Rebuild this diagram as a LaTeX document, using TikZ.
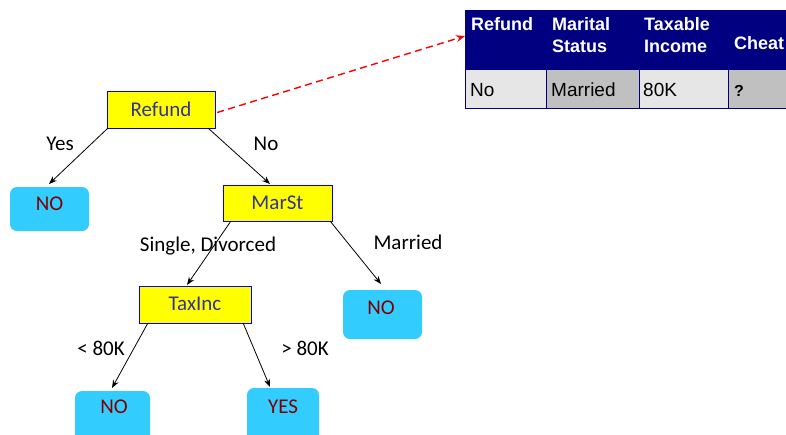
\documentclass[tikz,border=0pt]{standalone}
\usepackage{fontspec}
\setmainfont{Carlito}
\newfontfamily\arialfont{Liberation Sans}
\usetikzlibrary{arrows.meta}
\definecolor{boxblue}{HTML}{0000FF}
\definecolor{boxyellow}{HTML}{FFFF00}
\definecolor{leafcyan}{HTML}{33CCFF}
\definecolor{leaftext}{HTML}{800000}
\definecolor{dectext}{HTML}{333399}
\definecolor{navy}{HTML}{000080}
\definecolor{lightcell}{HTML}{E6E6E6}
\definecolor{darkcell}{HTML}{C0C0C0}
\tikzset{
  decbox/.style={draw=boxblue, line width=1pt, fill=boxyellow},
  leafbox/.style={fill=leafcyan, rounded corners=7pt},
  dectxt/.style={text=dectext, font=\fontsize{21}{24}\selectfont, inner sep=0pt},
  leaftxt/.style={text=leaftext, font=\fontsize{21}{24}\selectfont, inner sep=0pt},
  edgelbl/.style={font=\fontsize{21}{24}\selectfont, inner sep=0pt, anchor=base},
  arr/.style={-{Stealth[length=8pt,width=6pt]}, line width=0.8pt},
  hdr/.style={text=white, font=\arialfont\bfseries\fontsize{18}{22}\selectfont, align=left, inner sep=0pt, anchor=base west},
  cell/.style={font=\arialfont\fontsize{19}{22}\selectfont, inner sep=0pt, anchor=base west},
}
\begin{document}
\begin{tikzpicture}[x=1pt,y=-1pt]
\useasboundingbox (0,0) rectangle (786,434);
% table
\path[fill=navy] (465,10) rectangle (800,70);
\path[fill=lightcell] (465,70) rectangle (546,108);
\path[fill=darkcell] (546,70) rectangle (639,108);
\path[fill=lightcell] (639,70) rectangle (728,108);
\path[fill=darkcell] (728,70) rectangle (800,108);
\draw[navy, line width=1pt] (465,10) -- (465,108) -- (800,108);
\draw[navy, line width=1pt] (546,70) -- (546,108) (639,70) -- (639,108) (728,70) -- (728,108);
\node[hdr] (h1) at (471,30) {Refund};
\node[hdr] (h2) at (552,30) {Marital};
\node[hdr] (h2b) at (552,52) {Status};
\node[hdr] (h3) at (644,30) {Taxable};
\node[hdr] (h3b) at (644,52) {Income};
\node[hdr] (h4) at (734,49) {Cheat};
\node[cell] (c1) at (470,96) {No};
\node[cell] (c2) at (551,96) {Married};
\node[cell] (c3) at (643,96) {80K};
\node[cell, font=\arialfont\bfseries\fontsize{16}{18}\selectfont] (c4) at (734,96) {?};
\coordinate (tbl) at (465,36);
% decision nodes
\path[decbox] (107,91) rectangle (215,128);
\node[inner sep=0pt, minimum width=108pt, minimum height=37pt] (refund) at (161,109.5) {};
\node[dectxt] (refundt) at (161,109) {Refund};
\path[decbox] (223,185) rectangle (332,221);
\node[inner sep=0pt, minimum width=109pt, minimum height=36pt] (marst) at (277.5,203) {};
\node[dectxt] (marstt) at (277.5,203) {MarSt};
\path[decbox] (139,286) rectangle (251,323);
\node[inner sep=0pt, minimum width=112pt, minimum height=37pt] (taxinc) at (195,304.5) {};
\node[dectxt] (taxinct) at (195,304) {TaxInc};
% leaves
\path[leafbox] (10,187) rectangle (89,231);
\node[leaftxt] (no1) at (49.5,203.5) {NO};
\path[leafbox] (343,290) rectangle (422,339);
\node[leaftxt] (no2) at (381,308) {NO};
\path[leafbox] (75,391) rectangle (150,445);
\node[leaftxt] (no3) at (114,407) {NO};
\path[leafbox] (247,388) rectangle (319,445);
\node[leaftxt] (yes) at (283,407) {YES};
% edge endpoints
\coordinate (e1) at (49,184);
\coordinate (e2) at (270,184);
\coordinate (e3) at (187,285);
\coordinate (e4) at (381,284);
\coordinate (e5) at (112,388);
\coordinate (e6) at (270,387);
\draw[arr] (refund.south west) ++(1,0) -- (e1);
\draw[arr] ([xshift=-7pt]refund.south east) -- (e2);
\draw[arr] ([xshift=8pt]marst.south west) -- (e3);
\draw[arr] ([xshift=-2pt]marst.south east) -- (e4);
\draw[arr] ([xshift=9pt]taxinc.south west) -- (e5);
\draw[arr] ([xshift=-8pt]taxinc.south east) -- (e6);
\draw[red, line width=1.4pt, dash pattern=on 7pt off 4.5pt, -{Stealth[length=9pt,width=7pt]}] ([yshift=-3pt]refund.east) ++(2,0) -- (tbl);
% edge labels
\node[edgelbl] (l1) at (60,150) {Yes};
\node[edgelbl] (l2) at (266,150) {No};
\node[edgelbl] (l3) at (208,251) {Single, Divorced};
\node[edgelbl] (l4) at (408,249) {Married};
\node[edgelbl] (l5) at (101,355) {< 80K};
\node[edgelbl] (l6) at (305,355) {> 80K};
\end{tikzpicture}
\end{document}
